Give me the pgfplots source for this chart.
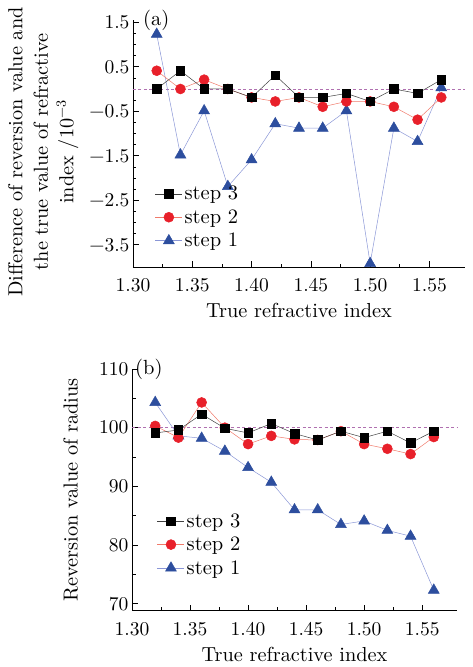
\documentclass[border=0pt]{standalone}
\usepackage{fontspec}
\setmainfont{lmroman10-regular.otf}
\usepackage{pgfplots}
\pgfplotsset{compat=1.18}
\definecolor{rmark}{HTML}{E8202A}
\definecolor{rline}{HTML}{F07A6A}
\definecolor{bmark}{HTML}{2D4E9E}
\definecolor{bline}{HTML}{8A96D6}
\definecolor{dline}{HTML}{B070B0}
\pgfplotsset{
 myax/.style={
  scale only axis,
  clip=false,
  axis lines*=left,
  axis line style={line width=0.8pt},
  xmin=1.30, xmax=1.58,
  xtick={1.30,1.35,1.40,1.45,1.50,1.55},
  xticklabels={1.30,1.35,1.40,1.45,1.50,1.55},
  minor x tick num=1,
  tick style={black, line width=0.6pt},
  major tick length=6pt, minor tick length=3.5pt,
  tick label style={font=\fontsize{19.5}{24}\selectfont},
  xticklabel style={yshift=-8pt},
  label style={font=\fontsize{20.3}{25.5}\selectfont},
  xlabel={True refractive index},
  xlabel style={yshift=-4pt},
  legend style={draw=none, fill=none, inner sep=0pt, row sep=4.3pt, font=\fontsize{20.5}{24}\selectfont, anchor=north west},
  legend cell align=left,
  reverse legend,
  legend image code/.code={\draw[mark repeat=2,mark phase=2] plot coordinates {(0pt,0pt) (13.5pt,0pt) (27pt,0pt)};},
 },
 s3/.style={black!75, line width=0.5pt, mark=square*, mark size=4.3pt, mark options={solid, fill=black, draw=black}},
 s2/.style={rline, line width=0.5pt, mark=*, mark size=5pt, mark options={solid, fill=rmark, draw=rmark}},
 s1/.style={bline, line width=0.5pt, mark=triangle*, mark size=6.3pt, mark options={solid, fill=bmark, draw=bmark}},
 dz/.style={dline, line width=0.6pt, dash pattern=on 3pt off 2.5pt, forget plot},
}
\begin{document}
\begin{tikzpicture}
\path[use as bounding box] (0pt,0pt) rectangle (472pt,-667pt);
% (a)
\begin{axis}[myax,
  at={(133pt,-267pt)}, anchor=south west,
  width=332pt, height=247pt,
  ymin=-4.0, ymax=1.55,
  ytick={-3.5,-2.5,-1.5,-0.5,0.5,1.5},
  yticklabels={−3.5,−2.5,−1.5,−0.5,0.5,1.5},
  minor y tick num=3,
  ylabel={Difference of reversion value and\\the true value of refractive\\index /10\textsuperscript{−3}},
  ylabel style={align=center, at={(axis description cs:-0.27,0.466)}, anchor=center},
  legend style={at={(rel axis cs:0.066,0.336)}},
]
\addplot[dz] coordinates {(1.30,0) (1.58,0)};
\addplot[s1] coordinates {(1.32,1.23) (1.34,-1.48) (1.36,-0.49) (1.38,-2.19) (1.40,-1.59) (1.42,-0.78) (1.44,-0.88) (1.46,-0.88) (1.48,-0.49) (1.50,-3.92) (1.52,-0.88) (1.54,-1.18) (1.56,0.03)};
\addlegendentry{step 1}
\addplot[s2] coordinates {(1.32,0.41) (1.34,0) (1.36,0.21) (1.38,0) (1.40,-0.19) (1.42,-0.28) (1.44,-0.19) (1.46,-0.40) (1.48,-0.28) (1.50,-0.28) (1.52,-0.40) (1.54,-0.69) (1.56,-0.19)};
\addlegendentry{step 2}
\addplot[s3] coordinates {(1.32,0) (1.34,0.41) (1.36,0) (1.38,0) (1.40,-0.19) (1.42,0.31) (1.44,-0.19) (1.46,-0.19) (1.48,-0.10) (1.50,-0.28) (1.52,0) (1.54,-0.10) (1.56,0.21)};
\addlegendentry{step 3}
\node[anchor=west, inner sep=0pt, font=\fontsize{20.5}{24}\selectfont] at (rel axis cs:0,1) [xshift=10pt] {(a)};
\end{axis}
% (b)
\begin{axis}[myax,
  at={(132pt,-610.7pt)}, anchor=south west,
  width=325pt, height=241.7pt,
  ymin=68.8, ymax=110,
  ytick={70,80,90,100,110},
  yticklabels={70,80,90,100,110},
  minor y tick num=1,
  ylabel={Reversion value of radius},
  ylabel style={at={(axis description cs:-0.189,0.5)}, anchor=center},
  legend style={at={(rel axis cs:0.077,0.411)}},
]
\addplot[dz] coordinates {(1.30,100) (1.58,100)};
\addplot[s1] coordinates {(1.32,104.3) (1.34,98.6) (1.36,98.2) (1.38,96.0) (1.40,93.2) (1.42,90.7) (1.44,86.0) (1.46,86.0) (1.48,83.5) (1.50,84.1) (1.52,82.5) (1.54,81.5) (1.56,72.3)};
\addlegendentry{step 1}
\addplot[s2] coordinates {(1.32,100.3) (1.34,98.3) (1.36,104.3) (1.38,100.0) (1.40,97.2) (1.42,98.6) (1.44,98.0) (1.46,97.9) (1.48,99.4) (1.50,97.2) (1.52,96.4) (1.54,95.5) (1.56,98.4)};
\addlegendentry{step 2}
\addplot[s3] coordinates {(1.32,99.1) (1.34,99.6) (1.36,102.3) (1.38,99.9) (1.40,99.1) (1.42,100.7) (1.44,99.0) (1.46,97.9) (1.48,99.4) (1.50,98.3) (1.52,99.4) (1.54,97.4) (1.56,99.4)};
\addlegendentry{step 3}
\node[anchor=west, inner sep=0pt, font=\fontsize{20.5}{24}\selectfont] at (rel axis cs:0,1) [xshift=3pt] {(b)};
\end{axis}
\end{tikzpicture}
\end{document}
